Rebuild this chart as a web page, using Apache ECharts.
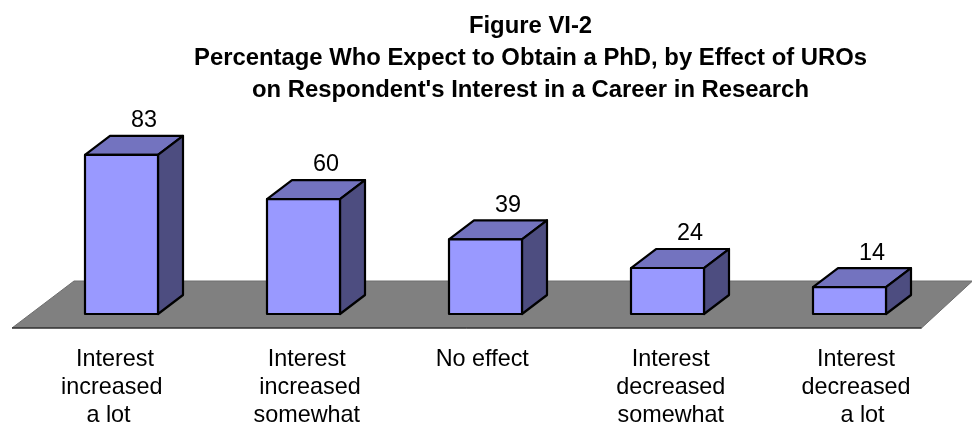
<!DOCTYPE html>
<html><head><meta charset="utf-8">
<style>html,body{margin:0;padding:0;background:#fff}#c{width:972px;height:424px}</style>
<script src="https://cdn.jsdelivr.net/npm/echarts@6/dist/echarts.min.js"></script>
</head><body><div id="c"></div>
<script>
const categories = ["Interest  \nincreased   \na lot    ", " Interest\n  increased\n somewhat", "No effect ", " Interest\n decreased\n somewhat", "  Interest\n  decreased\n    a lot"];
const values = [83, 60, 39, 24, 14];
const titleLines = ["Figure VI-2", "Percentage Who Expect to Obtain a PhD, by Effect of UROs", "on Respondent's Interest in a Career in Research"];

const DX = 25, DY = 19, BAR_W = 73, LINE = 2.2;
const FRONT = '#9999ff', TOP = '#7373bf', SIDE = '#4d4d80', EDGE = '#000';
const FLOOR_FILL = '#808080';
const FONT = '"Liberation Sans", Arial, sans-serif';

function renderBar(params, api) {
  const i = api.value(0), v = api.value(1);
  const c = api.coord([i, v]), b = api.coord([i, 0]);
  const x0 = c[0] - BAR_W / 2, x1 = c[0] + BAR_W / 2, y0 = c[1], y1 = b[1];
  const st = f => ({ fill: f, stroke: EDGE, lineWidth: LINE, lineJoin: 'round' });
  return { type: 'group', children: [
    { type: 'polygon', shape: { points: [[x0, y0], [x0 + DX, y0 - DY], [x1 + DX, y0 - DY], [x1, y0]] }, style: st(TOP) },
    { type: 'polygon', shape: { points: [[x1, y0], [x1 + DX, y0 - DY], [x1 + DX, y1 - DY], [x1, y1]] }, style: st(SIDE) },
    { type: 'rect', shape: { x: x0, y: y0, width: BAR_W, height: y1 - y0 }, style: st(FRONT) },
    { type: 'text', x: c[0] + DX / 2 + 10, y: y0 - DY - 15, style: { text: String(v), font: '23.4px ' + FONT, fill: '#000', align: 'center', verticalAlign: 'middle' } }
  ]};
}

function renderFloor(params, api) {
  const g = params.coordSys;
  const front = g.y + g.height + 14, back = front - 47;
  const fl = g.x - 18.5, bl = g.x + 43.5, br = g.x + 942, fr = g.x + 891;
  return { type: 'group', silent: true, children: [
    { type: 'polygon', shape: { points: [[fl, front], [bl, back], [br, back], [fr, front]] }, style: { fill: FLOOR_FILL, stroke: '#6e6e6e', lineWidth: 1 } },
    { type: 'line', shape: { x1: fl, y1: front, x2: fr, y2: front }, style: { stroke: '#111', lineWidth: 1 } }
  ]};
}

const chart = echarts.init(document.getElementById('c'), null, { renderer: 'canvas' });
chart.setOption({
  animation: false,
  backgroundColor: '#fff',
  title: { text: titleLines.join('\n'), left: 525.5, top: 5, textAlign: 'center',
    textStyle: { fontFamily: FONT, fontSize: 23.85, fontWeight: 'bold', color: '#000', lineHeight: 32 } },
  grid: { left: 30.5, width: 910, top: 122.4, height: 191.6, outerBoundsMode: 'none', containLabel: false },
  xAxis: { type: 'category', data: categories, axisLine: { show: false }, axisTick: { show: false },
    axisLabel: { interval: 0, margin: 32, lineHeight: 28, color: '#000', fontSize: 23.4, fontFamily: FONT } },
  yAxis: { type: 'value', min: 0, max: 100, show: false, splitLine: { show: false } },
  series: [
    { type: 'custom', renderItem: renderFloor, data: [0], encode: { x: 0 }, silent: true, z: 1, clip: false },
    { type: 'custom', renderItem: renderBar, data: values.map((v, i) => [i, v]), encode: { x: 0, y: 1 }, z: 2, clip: false }
  ]
});
</script></body></html>
